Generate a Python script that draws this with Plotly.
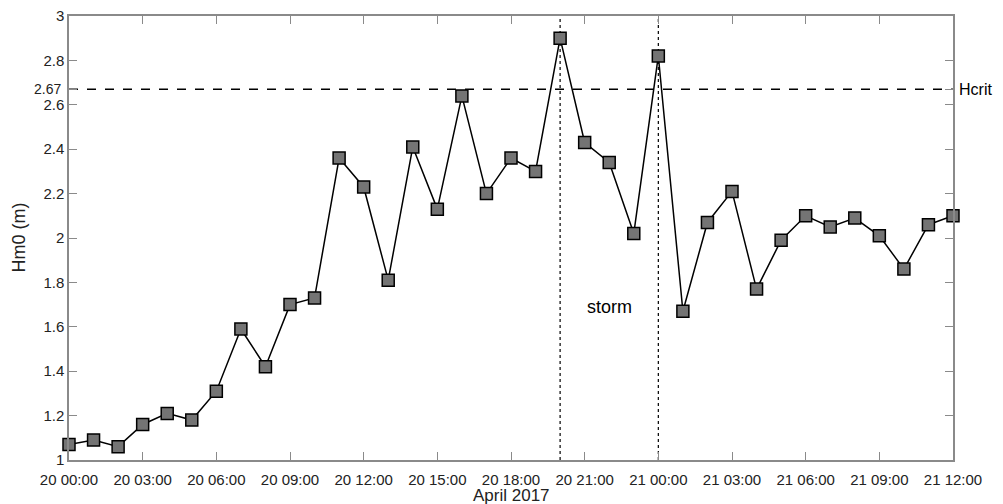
import plotly.graph_objects as go
import pandas as pd

times = pd.date_range("2017-04-20 00:00", "2017-04-21 12:00", freq="h")
hm0 = [1.07, 1.09, 1.06, 1.16, 1.21, 1.18, 1.31, 1.59, 1.42, 1.70, 1.73,
       2.36, 2.23, 1.81, 2.41, 2.13, 2.64, 2.20, 2.36, 2.30, 2.90, 2.43,
       2.34, 2.02, 2.82, 1.67, 2.07, 2.21, 1.77, 1.99, 2.10, 2.05, 2.09,
       2.01, 1.86, 2.06, 2.10]
hcrit = 2.67
storm_start = "2017-04-20 20:00"
storm_end = "2017-04-21 00:00"
xtick_vals = pd.date_range("2017-04-20 00:00", "2017-04-21 12:00", freq="3h")
xtick_text = [t.strftime("%d %H:%M") for t in xtick_vals]
ytick_vals = [1, 1.2, 1.4, 1.6, 1.8, 2, 2.2, 2.4, 2.6, 2.8, 3]
ytick_text = ["1", "1.2", "1.4", "1.6", "1.8", "2", "2.2", "2.4", "2.6", "2.8", "3"]

FONT = "Liberation Sans, Arial, sans-serif"
AX = "#8a8a8a"

fig = go.Figure()
fig.add_trace(go.Scatter(
    x=times, y=hm0, mode="lines+markers",
    line=dict(color="black", width=1.5),
    marker=dict(symbol="square", size=12, color="#747474",
                line=dict(color="black", width=1.5)),
    showlegend=False, cliponaxis=False,
))

fig.add_shape(type="line", xref="paper", yref="y", x0=0, x1=1, y0=hcrit, y1=hcrit,
              line=dict(color="black", width=1.5, dash="dash"), layer="below")
for xs in (storm_start, storm_end):
    fig.add_shape(type="line", xref="x", yref="paper", x0=xs, x1=xs, y0=0, y1=1,
                  line=dict(color="black", width=1.2, dash="dot"), layer="below")

fig.add_annotation(xref="paper", yref="y", x=1.004, y=hcrit, text="Hcrit",
                   showarrow=False, xanchor="left", font=dict(size=16, color="black", family=FONT))
fig.add_annotation(xref="paper", yref="y", x=-0.007, y=hcrit, text="2.67",
                   showarrow=False, xanchor="right", font=dict(size=14, color="#222", family=FONT))
fig.add_annotation(x="2017-04-20 22:00", y=1.69, text="storm", showarrow=False,
                   font=dict(size=18, color="black", family=FONT))
fig.add_annotation(xref="paper", yref="paper", x=0.5, y=-0.079, yanchor="middle",
                   text="April 2017", showarrow=False,
                   font=dict(size=17, color="#222", family=FONT))
fig.add_annotation(xref="paper", yref="paper", x=-0.057, y=0.5, textangle=-90,
                   text="Hm0 (m)", showarrow=False, xanchor="center",
                   font=dict(size=18, color="#222", family=FONT))

fig.update_xaxes(
    range=[times[0], times[-1]], tickvals=xtick_vals, ticktext=xtick_text,
    ticks="inside", ticklen=8, tickcolor=AX, tickwidth=1,
    showline=True, linecolor=AX, linewidth=1.5, mirror="ticks",
    showgrid=False, zeroline=False, automargin=False, ticklabelstandoff=5,
    tickfont=dict(size=15, color="#222", family=FONT),
)
fig.update_yaxes(
    range=[1, 3], tickvals=ytick_vals + [hcrit], ticktext=ytick_text + [""],
    ticks="inside", ticklen=8, tickcolor=AX, tickwidth=1,
    showline=True, linecolor=AX, linewidth=1.5, mirror="ticks",
    showgrid=False, zeroline=False, automargin=False,
    tickfont=dict(size=15, color="#222", family=FONT),
)
fig.update_layout(
    width=1003, height=504, plot_bgcolor="white", paper_bgcolor="white",
    margin=dict(l=69, r=50, t=16, b=44, autoexpand=False),
    font=dict(family=FONT),
)
fig.write_html("out.html")
